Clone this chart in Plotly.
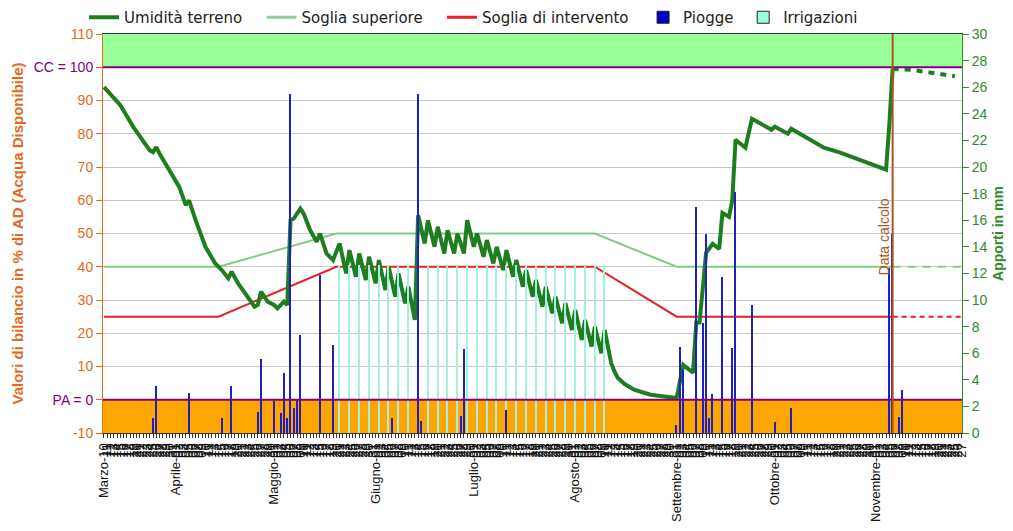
import plotly.graph_objects as go
import pandas as pd

# ---------------- DATA ----------------
start_date = "2010-03-10"
n_days = 263                      # 10 Mar .. 27 Nov
month_names = {3: "Marzo", 4: "Aprile", 5: "Maggio", 6: "Giugno", 7: "Luglio",
               8: "Agosto", 9: "Settembre", 10: "Ottobre", 11: "Novembre"}
calc_day = 241                    # "Data calcolo" (6 Nov)

# Umidità terreno (% AD), vertices of the line (day index from 10 Mar)
hum_days = [0, 5, 9, 14, 15, 16, 17, 20, 23, 25, 26, 28, 31, 34, 36, 38, 39, 41, 44, 46, 47,
            48, 50, 52, 53, 55, 56, 57, 58, 60, 61, 63, 65, 66, 68, 70, 72,
            74, 75, 77, 78, 80, 81, 83, 84, 86, 87, 89, 90, 92, 93, 95,
            96, 98, 99, 101, 102, 104, 105, 107, 108, 110, 111, 113, 114, 116, 117, 119, 120,
            122, 123, 125, 126, 128, 129, 131, 132, 134, 135, 137, 138, 140, 141, 143, 144,
            146, 147, 149, 150, 152, 153, 154, 155, 156, 157, 159, 162, 167, 174, 175,
            177, 180, 181, 182, 184, 186, 188, 189, 191, 192, 193, 196, 198, 204, 205,
            209, 210, 220, 225, 239, 240, 241]
hum_vals = [94, 88.6, 82, 75, 74.5, 76, 74, 69, 64, 58.5, 60, 54, 46, 41, 39, 36.5, 38.5, 35, 31, 28, 28.5,
            32.5, 29.5, 28.5, 27.5, 29.5, 28.5, 54, 54.5, 57.5, 56, 51, 47.5, 50, 44, 42, 47,
            38, 45, 37, 44, 36, 43, 35, 42, 33, 40, 31, 38, 29, 34, 24,
            55.5, 47, 54, 46, 52, 44, 51, 44, 50, 44, 54, 46, 50, 43, 48, 41, 46,
            39, 45, 37, 42, 34, 39, 31, 36, 28, 34, 26, 31, 23, 29, 21, 27,
            18, 24, 16, 22, 14, 21, 16, 11, 8.5, 6.6, 4.8, 3, 1.5, 0.4, 0.5,
            10.5, 8.1, 23.2, 23.2, 44.2, 46.9, 45.4, 56.2, 55, 60, 78.2, 75.8, 84.5, 81.2, 82.1,
            80, 81.5, 75.8, 74.3, 69.2, 83, 99.5]
# forecast after "Data calcolo"
fc_days = [241, 247, 260]
fc_vals = [99.5, 99.2, 97.3]

# Soglia superiore / Soglia di intervento (% AD)
thr_days = [0, 35, 71, 150, 175, 241]
upper_vals = [40, 40, 50, 50, 40, 40]
interv_vals = [25, 25, 40, 40, 25, 25]
thr_fc_days = [241, 262]
upper_fc = [40, 40]
interv_fc = [25, 25]

# Piogge (mm)
rain_days = [15, 16, 26, 36, 39, 47, 48, 52, 54, 55, 56, 57, 58, 59, 60, 66, 70, 88, 96, 97,
             109, 110, 123, 175, 176, 177, 181, 183, 184, 185, 186, 189, 192, 193, 198, 205,
             210, 240, 241, 243, 244]
rain_mm = [1.1, 3.5, 3.0, 1.1, 3.5, 1.6, 5.6, 2.4, 1.5, 4.5, 1.1, 25.5, 1.9, 2.5, 7.4, 11.9, 6.6, 1.1, 25.5, 0.9,
           1.3, 6.3, 1.7, 0.6, 6.5, 4.7, 17.0, 8.3, 15.0, 1.1, 2.9, 11.7, 6.4, 18.1, 9.6, 0.8,
           1.9, 12.4, 15.0, 1.2, 3.2]

# Irrigazioni (mm)
irr_days = [72, 75, 78, 81, 84, 87, 90, 93, 96, 99, 102, 105, 108, 111, 114, 117, 120, 123,
            126, 129, 132, 135, 138, 141, 144, 147, 150, 153]
irr_mm = [12.6] * 28

# legend labels (trailing no-break spaces widen the entries like in the original)
NB = "\u00a0"
legend_names = ["Umidità terreno" + NB * 3, "Soglia superiore" + NB * 3,
                "Soglia di intervento" + NB * 2, "Piogge" + NB, "Irrigazioni"]

# ---------------- TICKS ----------------
dates = pd.date_range(start_date, periods=n_days, freq="D")
tick_vals = list(range(n_days))
tick_text = []
for i, d in enumerate(dates):
    if i == 0 or d.day == 1:
        tick_text.append(f"{month_names[d.month]}-{d.day:02d}")
    else:
        tick_text.append(f"{d.day:02d}")

left_vals = list(range(-10, 111, 10))
left_text = []
for v in left_vals:
    if v == 100:
        left_text.append("<span style='color:#800080'>CC = 100</span>")
    elif v == 0:
        left_text.append("<span style='color:#800080'>PA = 0</span>")
    else:
        left_text.append(str(v))

ORANGE_TXT = "#E2691E"
GREEN_TXT = "#2E8B2E"
DARK_GREEN = "#1E7D1E"
LIGHT_GREEN = "#86C986"
RED = "#E82020"
BROWN = "#A9561E"

fig = go.Figure()

# Irrigazioni bars (y2)
fig.add_trace(go.Bar(x=irr_days, y=irr_mm, yaxis="y2", width=0.45,
                     marker=dict(color="#A4EEE2", line=dict(width=0)),
                     showlegend=False, name="Irrigazioni"))
# Piogge bars (y2)
fig.add_trace(go.Bar(x=rain_days, y=rain_mm, yaxis="y2", width=0.4,
                     marker=dict(color="#2020C0", line=dict(width=0)),
                     showlegend=False, name="Piogge"))

# thresholds
fig.add_trace(go.Scatter(x=thr_days, y=upper_vals, mode="lines",
                         line=dict(color=LIGHT_GREEN, width=2), name="Soglia superiore",
                         showlegend=False))
fig.add_trace(go.Scatter(x=thr_fc_days, y=upper_fc, mode="lines",
                         line=dict(color=LIGHT_GREEN, width=2, dash="8px,7px"), showlegend=False))
fig.add_trace(go.Scatter(x=thr_days, y=interv_vals, mode="lines",
                         line=dict(color=RED, width=2), name="Soglia di intervento",
                         showlegend=False))
fig.add_trace(go.Scatter(x=thr_fc_days, y=interv_fc, mode="lines",
                         line=dict(color=RED, width=2, dash="5px,4px"), showlegend=False))

# humidity
fig.add_trace(go.Scatter(x=hum_days, y=hum_vals, mode="lines",
                         line=dict(color=DARK_GREEN, width=4), name="Umidità terreno",
                         showlegend=False))
fig.add_trace(go.Scatter(x=fc_days, y=fc_vals, mode="lines",
                         line=dict(color=DARK_GREEN, width=4, dash="6px,6px"), showlegend=False))

# legend-only entries
fig.add_trace(go.Scatter(x=[None], y=[None], mode="lines", line=dict(color=DARK_GREEN, width=4),
                         name=legend_names[0]))
fig.add_trace(go.Scatter(x=[None], y=[None], mode="lines", line=dict(color="#99CC99", width=3),
                         name=legend_names[1]))
fig.add_trace(go.Scatter(x=[None], y=[None], mode="lines", line=dict(color=RED, width=3),
                         name=legend_names[2]))
fig.add_trace(go.Bar(x=[None], y=[None], marker=dict(color="#0000CC", line=dict(color="#222222", width=1)),
                     name=legend_names[3]))
fig.add_trace(go.Bar(x=[None], y=[None], marker=dict(color="#99FFDD", line=dict(color="#222222", width=1)),
                     name=legend_names[4]))

shapes = [
    dict(type="rect", xref="paper", yref="y", x0=0, x1=1, y0=100, y1=110,
         fillcolor="#99FF99", line=dict(width=0), layer="below"),
    dict(type="rect", xref="paper", yref="y", x0=0, x1=1, y0=-10, y1=0,
         fillcolor="#FFA500", line=dict(width=0), layer="below"),
    dict(type="line", xref="paper", yref="y", x0=0, x1=1, y0=100, y1=100,
         line=dict(color="#800080", width=2), layer="above"),
    dict(type="line", xref="paper", yref="y", x0=0, x1=1, y0=0, y1=0,
         line=dict(color="#800080", width=2), layer="above"),
    dict(type="line", xref="x", yref="paper", x0=calc_day, x1=calc_day, y0=0, y1=1,
         line=dict(color=BROWN, width=2), layer="above"),
]

fig.update_layout(
    width=1013, height=531,
    margin=dict(l=103, r=51, t=34, b=98, autoexpand=False),
    paper_bgcolor="white", plot_bgcolor="white",
    barmode="overlay", bargap=0,
    font=dict(family="Liberation Sans, Arial, sans-serif", size=13, color="#222222"),
    shapes=shapes,
    showlegend=True,
    legend=dict(orientation="h", x=-0.022, xanchor="left", y=1.0, yanchor="bottom",
                font=dict(family="DejaVu Sans, Verdana, sans-serif", size=15, color="#222222"),
                bgcolor="rgba(0,0,0,0)", itemwidth=30, tracegroupgap=0),
    annotations=[dict(x=calc_day, y=49, xref="x", yref="y", text="Data calcolo",
                      textangle=-90, showarrow=False, xanchor="right", yanchor="middle",
                      xshift=1, font=dict(color=BROWN, size=14))],
    xaxis=dict(range=[-0.3, 262.2], tickmode="array", tickvals=tick_vals, ticktext=tick_text,
               tickangle=-90, tickfont=dict(size=13, color="#111111"),
               ticks="outside", ticklen=4, tickcolor="#333333",
               showgrid=False, zeroline=False, showline=True, linecolor="#333333",
               linewidth=1, mirror=True, automargin=False),
    yaxis=dict(range=[-10, 110], tickmode="array", tickvals=left_vals, ticktext=left_text,
               tickfont=dict(color=ORANGE_TXT, size=14), ticks="outside", ticklen=6,
               tickcolor=ORANGE_TXT, showline=True, linecolor=ORANGE_TXT, linewidth=1,
               showgrid=True, gridcolor="#C8C8C8", gridwidth=1, zeroline=False, automargin=False,
               title=dict(text="<b>Valori di bilancio in % di AD (Acqua Disponibile)</b>",
                          font=dict(color=ORANGE_TXT, size=15), standoff=6)),
    yaxis2=dict(range=[0, 30], overlaying="y", side="right", tickmode="array",
                tickvals=list(range(0, 31, 2)), tickfont=dict(color=GREEN_TXT, size=14),
                ticks="outside", ticklen=6, tickcolor=GREEN_TXT, showline=True,
                linecolor=GREEN_TXT, linewidth=1, showgrid=False, zeroline=False, automargin=False,
                title=dict(text="<b>Apporti in mm</b>", font=dict(color=GREEN_TXT, size=14),
                           standoff=6)),
)

fig.write_html("out.html", config={"displayModeBar": False},
               post_script="document.body.style.margin='0px';")
